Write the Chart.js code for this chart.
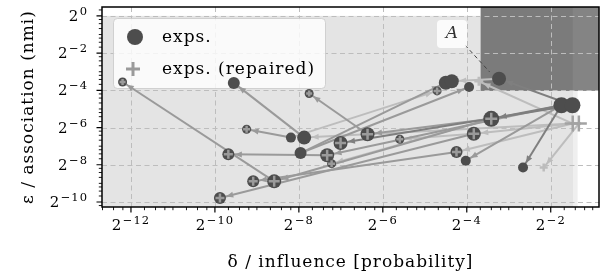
<!DOCTYPE html>
<html>
<head>
<meta charset="utf-8">
<script src="https://cdn.jsdelivr.net/npm/chart.js@4.4.1/dist/chart.umd.min.js"></script>
<style>
  html, body { margin: 0; padding: 0; background: #fff; }
</style>
</head>
<body>
<canvas id="chart" width="602" height="277"></canvas>
<script>
// All values are log2 exponents (delta on x, epsilon on y)

// exps. (circles)
const expX = [-12.20, -9.55, -7.755, -9.245, -8.19, -7.874, -7.007, -7.96, -9.68, -7.326, -7.22, -9.088, -8.588, -9.88,
              -4.707, -4.50, -4.357, -3.945, -6.364, -5.595, -4.245, -4.024, -3.231, -1.745, -1.483, -3.417, -3.833, -2.66];
const expY = [-3.55, -3.60, -4.17, -6.09, -6.54, -6.54, -6.83, -7.37, -7.44, -7.49, -7.94, -8.89, -8.89, -9.785,
              -4.03, -3.59, -3.51, -3.82, -6.36, -6.63, -7.31, -7.78, -3.37, -4.80, -4.80, -5.53, -6.33, -8.15];

// exps. (repaired) (pluses)
const repX = [-12.20, -7.755, -9.245, -7.007, -9.68, -7.326, -7.22, -9.088, -8.588, -9.88, -4.707, -6.364, -5.595,
              -4.245, -3.417, -3.833, -1.476, -1.33, -2.167, -3.714];
const repY = [-3.55, -4.17, -6.09, -6.83, -7.44, -7.49, -7.94, -8.89, -8.89, -9.785, -4.03, -6.36, -6.63,
              -7.31, -5.53, -6.33, -5.785, -5.785, -8.15, -3.51];

// arrows: [x, y] start -> [x, y] end
const arrowFrom = [[-8.588, -8.89], [-7.874, -6.54], [-6.364, -6.36], [-8.19, -6.54], [-7.326, -7.49], [-3.833, -6.33],
                   [-3.417, -5.53], [-4.245, -7.31], [-3.417, -5.53], [-1.745, -4.80], [-1.33, -5.785], [-1.745, -4.80],
                   [-1.745, -4.80], [-1.483, -4.80], [-1.476, -5.785], [-7.96, -7.37], [-8.19, -6.54], [-3.417, -5.53],
                   [-3.833, -6.33], [-1.476, -5.785], [-1.476, -5.785], [-1.483, -4.80], [-3.231, -3.37], [-1.745, -4.80],
                   [-1.476, -5.785], [-7.96, -7.37]];
const arrowTo = [[-12.20, -3.55], [-9.55, -3.60], [-7.755, -4.17], [-9.245, -6.09], [-9.68, -7.44], [-9.88, -9.785],
                 [-8.588, -8.89], [-9.088, -8.89], [-7.22, -7.94], [-2.66, -8.15], [-2.167, -8.15], [-4.024, -7.78],
                 [-3.417, -5.53], [-3.231, -3.37], [-3.714, -3.51], [-4.50, -3.59], [-4.707, -4.03], [-6.364, -6.36],
                 [-5.595, -6.63], [-3.833, -6.33], [-4.245, -7.31], [-7.007, -6.83], [-4.357, -3.51], [-7.326, -7.49],
                 [-7.874, -6.54], [-3.945, -3.82]];
const arrowShade = ['m', 'm', 'm', 'm', 'm', 'm', 'm', 'm', 'l', 'd', 'l', 'm', 'd', 'd', 'l', 'm', 'l', 'm',
                    'l', 'l', 'l', 'd', 'l', 'm', 'l', 'm'];

// shaded regions [xmin, xmax, ymin, ymax]
const regionLight = [[-20, -1.36, -20, 0], [-20, -1.47, -20, 0]];
const regionDark = [[-3.67, -1.47, -4.03, 5], [-1.47, 5, -4.03, 5]];

const xTicks = [-12, -10, -8, -6, -4, -2];
const yTicks = [0, -2, -4, -6, -8, -10];
const xRange = [-12.69, -0.85];
const yRange = [-10.27, 0.48];

// styles
const expRadius = [4.5, 6, 4.5, 4.5, 5, 7, 7, 6, 6, 7, 4.5, 6, 7, 6, 4.5, 7, 7, 5, 7, 4.5, 6, 5, 7, 8, 8, 8, 7, 5];
const repRadius = [3, 3, 3.5, 5.5, 4.5, 5.5, 3.5, 4.5, 5.5, 4.5, 3.5, 5.5, 3.5, 4.5, 6, 5.5, 8, 8, 4, 4.5];
const repColor = repX.map((_, i) => i >= 18 ? '#bcbcbc' : (i >= 16 ? '#a3a3a3' : '#9a9a9a'));
const shadeColor = { d: '#7f7f7f', m: '#9a9a9a', l: '#bdbdbd' };
const shadeOrder = { d: 3, m: 4, l: 5 };
const SERIF = '"DejaVu Serif", serif';

const p2 = e => Math.pow(2, e);

const datasets = arrowFrom.map((f, i) => ({
    type: 'line',
    isArrow: true,
    data: [{ x: p2(f[0]), y: p2(f[1]) }, { x: p2(arrowTo[i][0]), y: p2(arrowTo[i][1]) }],
    borderColor: shadeColor[arrowShade[i]],
    borderWidth: 2,
    pointRadius: 0,
    fill: false,
    tension: 0,
    order: shadeOrder[arrowShade[i]]
}));

datasets.push({
    type: 'scatter',
    label: 'exps.',
    data: expX.map((x, i) => ({ x: p2(x), y: p2(expY[i]) })),
    pointStyle: 'circle',
    pointRadius: expRadius,
    backgroundColor: '#4d4d4d',
    borderWidth: 0,
    order: 2
});

datasets.push({
    type: 'scatter',
    label: 'exps. (repaired)',
    data: repX.map((x, i) => ({ x: p2(x), y: p2(repY[i]) })),
    pointStyle: 'cross',
    pointRadius: repRadius,
    borderColor: repColor,
    borderWidth: 2.5,
    order: 1
});

function targetRadius(x, y) {
    for (let i = 0; i < expX.length; i++) {
        if (Math.abs(expX[i] - x) < 1e-6 && Math.abs(expY[i] - y) < 1e-6) return expRadius[i];
    }
    for (let i = 0; i < repX.length; i++) {
        if (Math.abs(repX[i] - x) < 1e-6 && Math.abs(repY[i] - y) < 1e-6) return repRadius[i];
    }
    return 0;
}

function powLabel(ctx, n, x, y, align) {
    const base = '2';
    const sup = (n < 0 ? '\u2212' : '') + Math.abs(n);
    ctx.letterSpacing = '0px';
    ctx.font = '15px ' + SERIF;
    const wb = ctx.measureText(base).width;
    ctx.font = '11.5px ' + SERIF;
    ctx.letterSpacing = '1px';
    const ws = ctx.measureText(sup).width;
    const gap = 1.5;
    const total = wb + gap + ws;
    const x0 = align === 'center' ? x - total / 2 : x - total;
    ctx.textAlign = 'left';
    ctx.textBaseline = 'alphabetic';
    ctx.fillText(sup, x0 + wb + gap, y - 6);
    ctx.letterSpacing = '0px';
    ctx.font = '15px ' + SERIF;
    ctx.fillText(base, x0, y);
}

function minorTicks(range) {
    const out = [];
    for (let n = Math.floor(range[0]) - 1; n <= Math.ceil(range[1]); n++) {
        [1, 1.25, 1.5, 1.75].forEach(m => {
            const v = n + Math.log2(m);
            if (m === 1 && n % 2 === 0) return;
            if (v > range[0] && v < range[1]) out.push(v);
        });
    }
    return out;
}

function drawLegend(ctx) {
    ctx.save();
    ctx.fillStyle = 'rgba(255,255,255,0.8)';
    ctx.strokeStyle = 'rgba(200,200,200,0.8)';
    ctx.lineWidth = 1;
    ctx.beginPath();
    ctx.roundRect(113.5, 18.5, 212, 70, 4);
    ctx.fill();
    ctx.stroke();
    ctx.fillStyle = '#4d4d4d';
    ctx.beginPath();
    ctx.arc(135, 37, 8, 0, Math.PI * 2);
    ctx.fill();
    ctx.strokeStyle = '#9a9a9a';
    ctx.lineWidth = 3;
    ctx.beginPath();
    ctx.moveTo(126, 69); ctx.lineTo(140, 69);
    ctx.moveTo(133, 62); ctx.lineTo(133, 76);
    ctx.stroke();
    ctx.fillStyle = '#000';
    ctx.font = '17px ' + SERIF;
    ctx.letterSpacing = '1px';
    ctx.textAlign = 'left';
    ctx.textBaseline = 'alphabetic';
    ctx.fillText('exps.', 162, 42);
    ctx.fillText('exps. (repaired)', 162, 74);
    ctx.restore();
}

const decor = {
    id: 'decor',
    beforeDatasetsDraw(chart) {
        const { ctx, chartArea: a, scales: { x, y } } = chart;
        ctx.save();
        ctx.beginPath();
        ctx.rect(a.left, a.top, a.right - a.left, a.bottom - a.top);
        ctx.clip();
        const rect = (r, color) => {
            const x0 = x.getPixelForValue(p2(r[0])), x1 = x.getPixelForValue(p2(r[1]));
            const y0 = y.getPixelForValue(p2(r[2])), y1 = y.getPixelForValue(p2(r[3]));
            ctx.fillStyle = color;
            ctx.fillRect(Math.min(x0, x1), Math.min(y0, y1), Math.abs(x1 - x0), Math.abs(y1 - y0));
        };
        rect(regionLight[0], '#efefef');
        rect(regionLight[1], '#e4e4e4');
        rect(regionDark[0], '#7b7b7b');
        rect(regionDark[1], '#848484');

        // grid
        ctx.strokeStyle = '#bdbdbd';
        ctx.lineWidth = 1;
        ctx.setLineDash([5, 3.5]);
        xTicks.forEach(t => {
            const px = Math.round(x.getPixelForValue(p2(t))) + 0.5;
            ctx.beginPath(); ctx.moveTo(px, a.top); ctx.lineTo(px, a.bottom); ctx.stroke();
        });
        yTicks.forEach(t => {
            const py = Math.round(y.getPixelForValue(p2(t))) + 0.5;
            ctx.beginPath(); ctx.moveTo(a.left, py); ctx.lineTo(a.right, py); ctx.stroke();
        });
        ctx.restore();
        drawLegend(ctx);
    },
    afterDatasetDraw(chart, args) {
        const ds = chart.data.datasets[args.index];
        if (!ds.isArrow) return;
        const { ctx, chartArea: a } = chart;
        const p0 = args.meta.data[0], p1 = args.meta.data[1];
        const i = args.index;
        const r = targetRadius(arrowTo[i][0], arrowTo[i][1]);
        const dx = p1.x - p0.x, dy = p1.y - p0.y;
        const len = Math.hypot(dx, dy);
        const ux = dx / len, uy = dy / len;
        const tx = p1.x - ux * (r + 0.5), ty = p1.y - uy * (r + 0.5);
        const hl = 7, hw = 3;
        ctx.save();
        ctx.beginPath();
        ctx.rect(a.left, a.top, a.right - a.left, a.bottom - a.top);
        ctx.clip();
        ctx.fillStyle = ds.borderColor;
        ctx.beginPath();
        ctx.moveTo(tx, ty);
        ctx.lineTo(tx - ux * hl - uy * hw, ty - uy * hl + ux * hw);
        ctx.lineTo(tx - ux * hl + uy * hw, ty - uy * hl - ux * hw);
        ctx.closePath();
        ctx.fill();
        ctx.restore();
    },
    afterDraw(chart) {
        const { ctx, chartArea: a, scales: { x, y } } = chart;
        ctx.save();

        // annotation A
        const ax = 452, ay = 34;
        ctx.strokeStyle = '#444';
        ctx.lineWidth = 1;
        ctx.setLineDash([4, 3]);
        ctx.beginPath();
        ctx.moveTo(465, 45);
        ctx.lineTo(x.getPixelForValue(p2(-3.67)) + 9, y.getPixelForValue(p2(-4.03)) - 19);
        ctx.stroke();
        ctx.setLineDash([]);
        ctx.fillStyle = 'rgba(255,255,255,0.85)';
        ctx.beginPath();
        ctx.roundRect(ax - 15, ay - 14, 30, 28, 4);
        ctx.fill();
        ctx.fillStyle = '#333';
        ctx.font = 'italic 17px ' + SERIF;
        ctx.textAlign = 'center';
        ctx.textBaseline = 'middle';
        ctx.fillText('A', ax, ay);

        // frame
        ctx.strokeStyle = '#000';
        ctx.lineWidth = 1.5;
        ctx.strokeRect(a.left, a.top, a.right - a.left, a.bottom - a.top);

        // ticks
        ctx.lineWidth = 1.2;
        ctx.beginPath();
        xTicks.forEach(t => {
            const px = x.getPixelForValue(p2(t));
            ctx.moveTo(px, a.bottom); ctx.lineTo(px, a.bottom + 5.5);
        });
        yTicks.forEach(t => {
            const py = y.getPixelForValue(p2(t));
            ctx.moveTo(a.left, py); ctx.lineTo(a.left - 5.5, py);
        });
        ctx.stroke();
        ctx.lineWidth = 0.9;
        ctx.beginPath();
        minorTicks(xRange).forEach(t => {
            const px = x.getPixelForValue(p2(t));
            ctx.moveTo(px, a.bottom); ctx.lineTo(px, a.bottom + 3.2);
        });
        minorTicks(yRange).forEach(t => {
            const py = y.getPixelForValue(p2(t));
            ctx.moveTo(a.left, py); ctx.lineTo(a.left - 3.2, py);
        });
        ctx.stroke();

        // tick labels
        ctx.fillStyle = '#000';
        xTicks.forEach(t => powLabel(ctx, t, x.getPixelForValue(p2(t)), a.bottom + 23, 'center'));
        yTicks.forEach(t => powLabel(ctx, t, 88, y.getPixelForValue(p2(t)) + 5, 'right'));

        // axis titles
        ctx.font = '17px ' + SERIF;
        ctx.letterSpacing = '1px';
        ctx.textAlign = 'center';
        ctx.textBaseline = 'alphabetic';
        ctx.fillText('\u03b4 / influence [probability]', (a.left + a.right) / 2, 267);
        ctx.translate(33, (a.top + a.bottom) / 2);
        ctx.rotate(-Math.PI / 2);
        ctx.fillText('\u03b5 / association (nmi)', 0, 0);
        ctx.restore();
    }
};

new Chart(document.getElementById('chart'), {
    data: { datasets },
    options: {
        responsive: false,
        devicePixelRatio: 1,
        animation: false,
        events: [],
        layout: { autoPadding: false, padding: { left: 102, right: 3, top: 7, bottom: 70 } },
        plugins: { legend: { display: false }, tooltip: { enabled: false } },
        scales: {
            x: { type: 'logarithmic', min: p2(xRange[0]), max: p2(xRange[1]), display: false },
            y: { type: 'logarithmic', min: p2(yRange[0]), max: p2(yRange[1]), display: false }
        }
    },
    plugins: [decor]
});
</script>
</body>
</html>
